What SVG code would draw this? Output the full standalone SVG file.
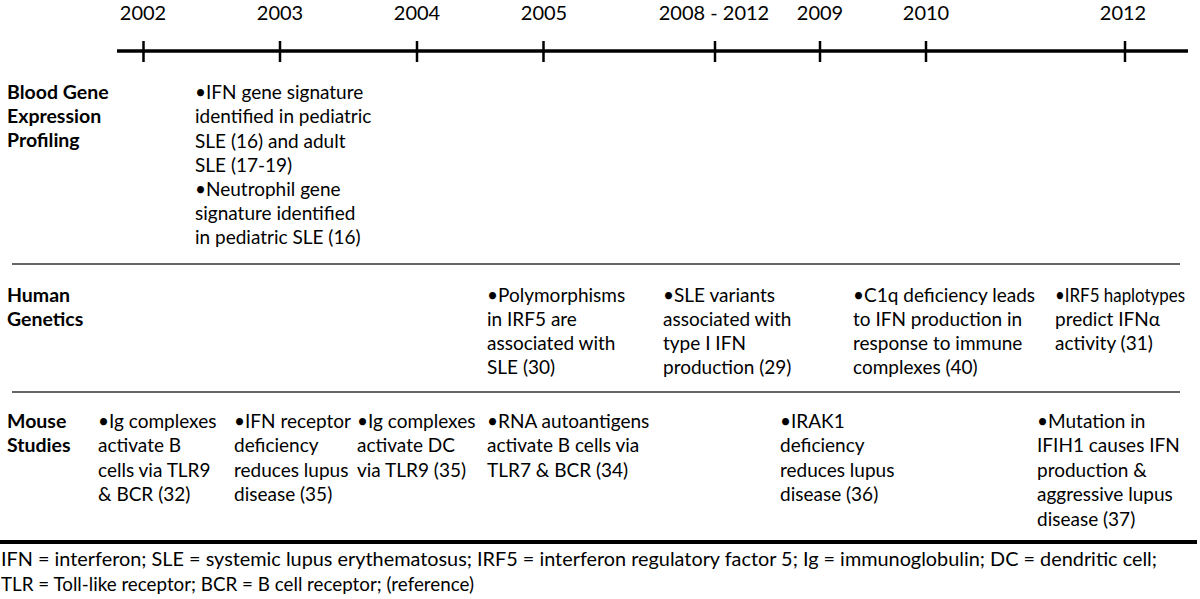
<svg xmlns="http://www.w3.org/2000/svg" width="1200" height="599" viewBox="0 0 1200 599">
<style>
text{font-family:Lato,"Liberation Sans",sans-serif;font-size:19px;fill:#000}
.yr{font-size:20px;text-anchor:middle}
.hd{font-weight:bold;font-size:19.5px}
.ft{font-size:19.5px}
.axis{stroke:#000;stroke-width:3.5}
.tick{stroke:#000;stroke-width:2.5}
.sep{stroke:#333;stroke-width:1.5}
</style>
<rect width="1200" height="599" fill="#fff"/>
<g id="timeline">
<line class="axis" x1="117" y1="51" x2="1188" y2="51"/>
<line class="tick" x1="143.5" y1="41" x2="143.5" y2="62"/>
<line class="tick" x1="280" y1="41" x2="280" y2="62"/>
<line class="tick" x1="417" y1="41" x2="417" y2="62"/>
<line class="tick" x1="543.5" y1="41" x2="543.5" y2="62"/>
<line class="tick" x1="715" y1="41" x2="715" y2="62"/>
<line class="tick" x1="820" y1="41" x2="820" y2="62"/>
<line class="tick" x1="926" y1="41" x2="926" y2="62"/>
<line class="tick" x1="1125" y1="41" x2="1125" y2="62"/>
<text class="yr" x="143" y="20">2002</text>
<text class="yr" x="280" y="20">2003</text>
<text class="yr" x="417" y="20">2004</text>
<text class="yr" x="544" y="20">2005</text>
<text class="yr" x="714" y="20">2008 - 2012</text>
<text class="yr" x="820" y="20">2009</text>
<text class="yr" x="926" y="20">2010</text>
<text class="yr" x="1123" y="20">2012</text>
</g>
<g id="separators">
<line class="sep" x1="12" y1="264" x2="1180" y2="264"/>
<line class="sep" x1="12" y1="392" x2="1180" y2="392"/>
<line stroke="#000" stroke-width="4" x1="0" y1="542" x2="1197" y2="542"/>
</g>
<g id="row-blood">
<text class="hd" x="7" y="99">Blood Gene</text>
<text class="hd" x="7" y="123">Expression</text>
<text class="hd" x="7" y="147">Profiling</text>
</g>
<g id="blood-2003">
<text x="195" y="99">•IFN gene signature</text>
<text x="195" y="123">identified in pediatric</text>
<text x="195" y="148">SLE (16) and adult</text>
<text x="195" y="172">SLE (17-19)</text>
<text x="195" y="196">•Neutrophil gene</text>
<text x="195" y="220">signature identified</text>
<text x="195" y="244">in pediatric SLE (16)</text>
</g>
<g id="row-human">
<text class="hd" x="7" y="302">Human</text>
<text class="hd" x="7" y="326">Genetics</text>
</g>
<g id="human-2005">
<text x="487" y="302">•Polymorphisms</text>
<text x="487" y="326">in IRF5 are</text>
<text x="487" y="350">associated with</text>
<text x="487" y="374">SLE (30)</text>
</g>
<g id="human-2008">
<text x="663" y="302">•SLE variants</text>
<text x="663" y="326">associated with</text>
<text x="663" y="350">type I IFN</text>
<text x="663" y="374">production (29)</text>
</g>
<g id="human-2010">
<text x="853" y="302">•C1q deficiency leads</text>
<text x="853" y="326">to IFN production in</text>
<text x="853" y="350">response to immune</text>
<text x="853" y="374">complexes (40)</text>
</g>
<g id="human-2012">
<text x="1055" y="302" textLength="130" lengthAdjust="spacingAndGlyphs">•IRF5 haplotypes</text>
<text x="1055" y="326">predict IFNα</text>
<text x="1055" y="350">activity (31)</text>
</g>
<g id="row-mouse">
<text class="hd" x="7" y="428">Mouse</text>
<text class="hd" x="7" y="452">Studies</text>
</g>
<g id="mouse-2002">
<text x="98" y="428">•Ig complexes</text>
<text x="98" y="452">activate B</text>
<text x="98" y="477">cells via TLR9</text>
<text x="98" y="501">&amp; BCR (32)</text>
</g>
<g id="mouse-2003">
<text x="234" y="428">•IFN receptor</text>
<text x="234" y="452">deficiency</text>
<text x="234" y="477">reduces lupus</text>
<text x="234" y="501">disease (35)</text>
</g>
<g id="mouse-2004">
<text x="357" y="428">•Ig complexes</text>
<text x="357" y="452">activate DC</text>
<text x="357" y="477">via TLR9 (35)</text>
</g>
<g id="mouse-2005">
<text x="487" y="428">•RNA autoantigens</text>
<text x="487" y="452">activate B cells via</text>
<text x="487" y="477">TLR7 &amp; BCR (34)</text>
</g>
<g id="mouse-2009">
<text x="780" y="428">•IRAK1</text>
<text x="780" y="452">deficiency</text>
<text x="780" y="477">reduces lupus</text>
<text x="780" y="501">disease (36)</text>
</g>
<g id="mouse-2012">
<text x="1037" y="428">•Mutation in</text>
<text x="1037" y="452">IFIH1 causes IFN</text>
<text x="1037" y="477">production &amp;</text>
<text x="1037" y="501">aggressive lupus</text>
<text x="1037" y="526">disease (37)</text>
</g>
<g id="footer">
<text class="ft" x="1" y="566" textLength="1156" lengthAdjust="spacingAndGlyphs">IFN = interferon; SLE = systemic lupus erythematosus; IRF5 = interferon regulatory factor 5; Ig = immunoglobulin; DC = dendritic cell;</text>
<text class="ft" x="1" y="591" textLength="473" lengthAdjust="spacingAndGlyphs">TLR = Toll-like receptor; BCR = B cell receptor; (reference)</text>
</g>
</svg>
